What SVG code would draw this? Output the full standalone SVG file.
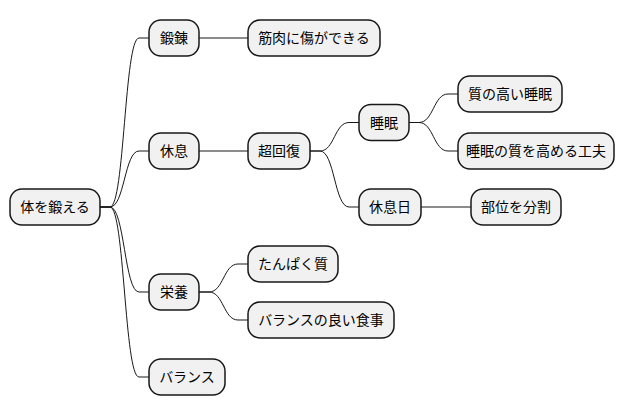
<svg xmlns="http://www.w3.org/2000/svg" width="628" height="415" viewBox="0 0 628 415">
<style>
rect.n{fill:#F1F1F1;stroke:#181818;stroke-width:1.5}
text{font-family:"Noto Sans CJK JP","Noto Sans",sans-serif;font-size:14px;fill:#000;text-anchor:middle}
.c path{fill:none;stroke:#181818;stroke-width:1}
</style>
<rect width="628" height="415" fill="#fff"/>
<g class="c" id="connectors">
<path d="M100,207 L110,207 C124.5,207 124.5,38 139,38 L149,38"/>
<path d="M100,207 L110,207 C124.5,207 124.5,151 139,151 L149,151"/>
<path d="M100,207 L110,207 C124.5,207 124.5,292 139,292 L149,292"/>
<path d="M100,207 L110,207 C124.5,207 124.5,377 139,377 L149,377"/>
<path d="M199,38 L248,38"/>
<path d="M199,151 L248,151"/>
<path d="M310,151 L320,151 C334.5,151 334.5,122.5 349,122.5 L359,122.5"/>
<path d="M310,151 L320,151 C334.5,151 334.5,207 349,207 L359,207"/>
<path d="M409,122.5 L419,122.5 C433.5,122.5 433.5,94 448,94 L458,94"/>
<path d="M409,122.5 L419,122.5 C433.5,122.5 433.5,151 448,151 L458,151"/>
<path d="M421,207 L471,207"/>
<path d="M199,292 L209,292 C223.5,292 223.5,264 238,264 L248,264"/>
<path d="M199,292 L209,292 C223.5,292 223.5,320 238,320 L248,320"/>
</g>
<g id="root"><rect class="n" x="10" y="189" width="90" height="36" rx="12"/><text x="55" y="212">体を鍛える</text></g>
<g id="n1"><rect class="n" x="149" y="20" width="50" height="36" rx="12"/><text x="174" y="43">鍛錬</text></g>
<g id="n1a"><rect class="n" x="248" y="20" width="132" height="36" rx="12"/><text x="314" y="43">筋肉に傷ができる</text></g>
<g id="n2"><rect class="n" x="149" y="133" width="50" height="36" rx="12"/><text x="174" y="156">休息</text></g>
<g id="n2a"><rect class="n" x="248" y="133" width="62" height="36" rx="12"/><text x="279" y="156">超回復</text></g>
<g id="n2a1"><rect class="n" x="359" y="104.5" width="50" height="36" rx="12"/><text x="384" y="127.5">睡眠</text></g>
<g id="n2a1a"><rect class="n" x="458" y="76" width="104" height="36" rx="12"/><text x="510" y="99">質の高い睡眠</text></g>
<g id="n2a1b"><rect class="n" x="458" y="133" width="156" height="36" rx="12"/><text x="536" y="156">睡眠の質を高める工夫</text></g>
<g id="n2a2"><rect class="n" x="359" y="189" width="62" height="36" rx="12"/><text x="390" y="212">休息日</text></g>
<g id="n2a2a"><rect class="n" x="471" y="189" width="90" height="36" rx="12"/><text x="516" y="212">部位を分割</text></g>
<g id="n3"><rect class="n" x="149" y="274" width="50" height="36" rx="12"/><text x="174" y="297">栄養</text></g>
<g id="n3a"><rect class="n" x="248" y="246" width="90" height="36" rx="12"/><text x="293" y="269">たんぱく質</text></g>
<g id="n3b"><rect class="n" x="248" y="302" width="146" height="36" rx="12"/><text x="321" y="325">バランスの良い食事</text></g>
<g id="n4"><rect class="n" x="149" y="359" width="76" height="36" rx="12"/><text x="187" y="382">バランス</text></g>
</svg>
